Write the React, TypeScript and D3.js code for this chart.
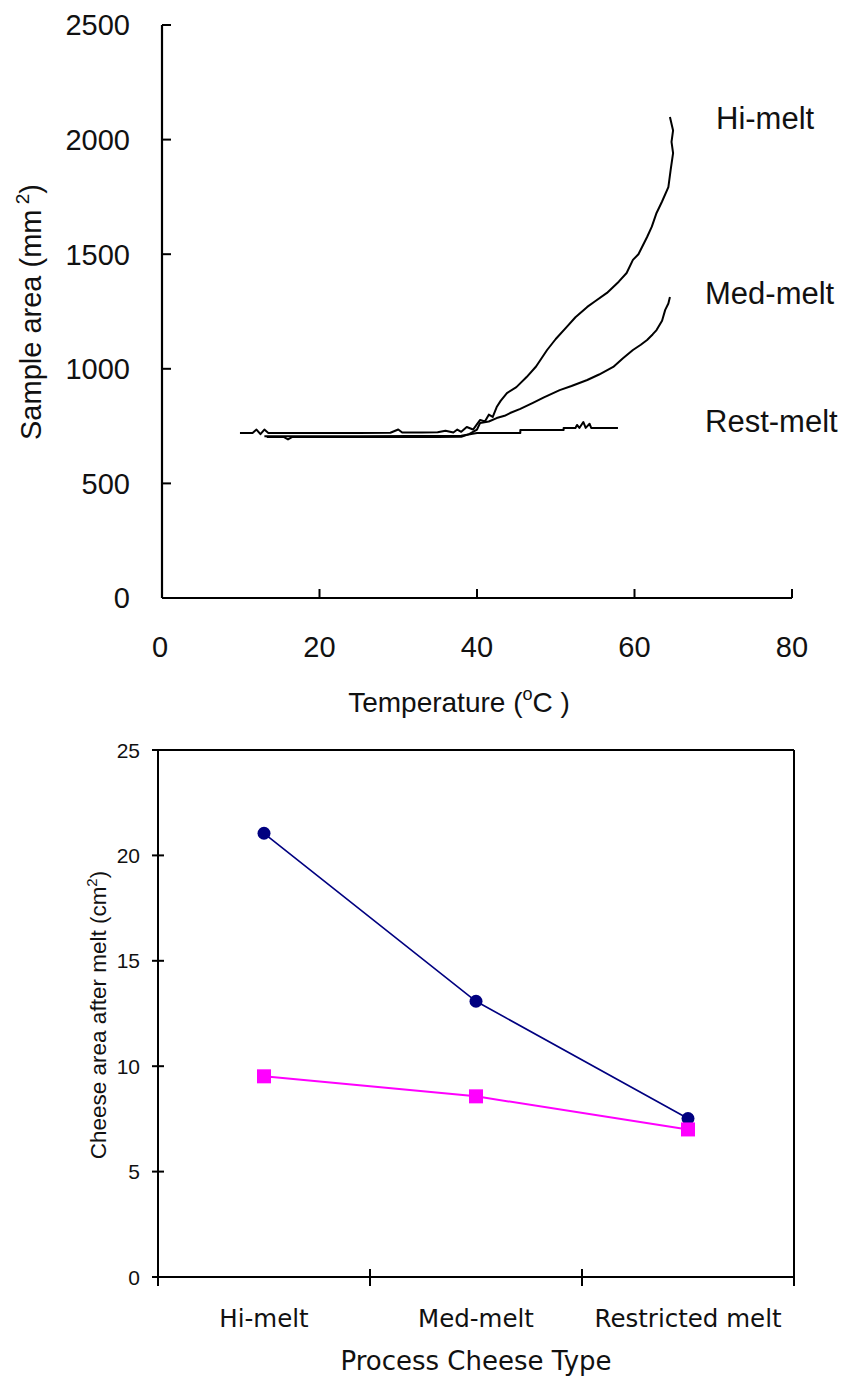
import React from "react";
import * as d3 from "d3";

// ---------- Top chart data: temperature (°C) vs sample area (mm²) ----------
const hiMeltTemp = [9.9, 11.5, 12, 12.5, 13, 13.5, 20, 25, 29, 30, 30.5, 33, 35, 36, 37, 37.5, 38, 38.7, 39.5, 40.4, 41, 41.5, 42, 42.5, 43, 43.8, 45, 46.3, 47.5, 48.9, 50, 51.4, 52.5, 54, 55, 56.5, 58, 59, 59.8, 60.5, 61.6, 62.2, 62.8, 63.5, 64.3, 64.6, 64.9, 64.7, 64.9, 64.5];
const hiMeltArea = [720, 720, 735, 715, 735, 720, 720, 720, 721, 735, 722, 722, 723, 730, 722, 735, 725, 746, 735, 777, 770, 800, 790, 833, 860, 894, 920, 964, 1010, 1082, 1130, 1183, 1225, 1270, 1295, 1331, 1380, 1418, 1475, 1500, 1575, 1620, 1680, 1730, 1793, 1870, 1941, 1990, 2040, 2099];

const medMeltTemp = [13.3, 15.5, 16, 16.5, 25, 35, 38, 39, 40, 40.4, 41.5, 42.5, 43.5, 44.2, 45.5, 47.1, 48.5, 50.5, 52, 54, 55.5, 57.3, 58.5, 59.8, 60.8, 61.6, 62.3, 62.8, 63.5, 63.9, 64.3, 64.5];
const medMeltArea = [702, 702, 692, 702, 702, 702, 703, 715, 735, 764, 770, 785, 795, 807, 825, 851, 875, 907, 925, 951, 975, 1008, 1045, 1082, 1105, 1126, 1150, 1169, 1210, 1257, 1285, 1313];

const restMeltTemp = [13, 25, 38, 40, 45.5, 45.5, 51, 51, 52.5, 52.7, 53, 53.5, 53.8, 54.3, 54.5, 57.9];
const restMeltArea = [706, 706, 708, 720, 720, 733, 733, 742, 742, 755, 742, 768, 742, 760, 742, 742];

const topXTicks = [0, 20, 40, 60, 80];
const topYTicks = [0, 500, 1000, 1500, 2000, 2500];
const curveLabels = ["Hi-melt", "Med-melt", "Rest-melt"];
const curveLabelY = [118, 293, 421]; // label vertical positions (px) beside each curve end

// ---------- Bottom chart data ----------
const cheeseTypes = ["Hi-melt", "Med-melt", "Restricted melt"];
const seriesBlue = [21.05, 13.08, 7.52];
const seriesMagenta = [9.52, 8.57, 7.0];
const bottomYTicks = [0, 5, 10, 15, 20, 25];

const ARIAL = "'Liberation Sans', Arial, sans-serif";
const DEJAVU = "'DejaVu Sans', sans-serif";

export default function App() {
  // top scales
  const xT = d3.scaleLinear().domain([0, 80]).range([162, 792]);
  const yT = d3.scaleLinear().domain([0, 2500]).range([598, 25]);
  const lineT = d3
    .line<[number, number]>()
    .x((d) => xT(d[0]))
    .y((d) => yT(d[1]));
  const zip = (a: number[], b: number[]) => a.map((v, i) => [v, b[i]] as [number, number]);
  const topSeries = [
    zip(hiMeltTemp, hiMeltArea),
    zip(medMeltTemp, medMeltArea),
    zip(restMeltTemp, restMeltArea),
  ];

  // bottom scales
  const xB = d3.scaleBand<string>().domain(cheeseTypes).range([158, 794]).padding(0);
  const yB = d3.scaleLinear().domain([0, 25]).range([1277, 750]);
  const cx = (c: string) => (xB(c) as number) + xB.bandwidth() / 2;
  const lineB = d3
    .line<number>()
    .x((_, i) => cx(cheeseTypes[i]))
    .y((d) => yB(d));
  const bandEdges = [...cheeseTypes.map((c) => xB(c) as number), 794];

  return (
    <svg
      width={847}
      height={1379}
      style={{ position: "absolute", left: 0, top: 0, background: "#fff" }}
    >
      <rect x={0} y={0} width={847} height={1379} fill="#fff" />
      {/* ================= TOP CHART ================= */}
      <g>
        {/* data lines */}
        {topSeries.map((s, i) => (
          <path
            key={i}
            d={lineT(s) || ""}
            fill="none"
            stroke="#000"
            strokeWidth={2}
            strokeLinejoin="round"
          />
        ))}
        {/* axes */}
        <line x1={xT(0)} x2={xT(0)} y1={yT(2500)} y2={yT(0)} stroke="#000" strokeWidth={2.2} />
        <line x1={xT(0)} x2={xT(80)} y1={yT(0)} y2={yT(0)} stroke="#000" strokeWidth={2.2} />
        {topYTicks.map((t) => (
          <g key={t}>
            <line x1={xT(0)} x2={xT(0) + 9} y1={yT(t)} y2={yT(t)} stroke="#000" strokeWidth={2} />
            <text
              x={130}
              y={yT(t)}
              dy="0.36em"
              textAnchor="end"
              fontFamily={ARIAL}
              fontSize={29}
              fill="#111"
            >
              {t}
            </text>
          </g>
        ))}
        {topXTicks.map((t) => (
          <g key={t}>
            {t > 0 && (
              <line x1={xT(t)} x2={xT(t)} y1={yT(0)} y2={yT(0) - 9} stroke="#000" strokeWidth={2} />
            )}
            <text
              x={xT(t) - (t === 0 ? 2 : 0)}
              y={657}
              textAnchor="middle"
              fontFamily={ARIAL}
              fontSize={29}
              fill="#111"
            >
              {t}
            </text>
          </g>
        ))}
        {/* axis titles */}
        <text x={459} y={712} textAnchor="middle" fontFamily={ARIAL} fontSize={28} fill="#111">
          Temperature (
          <tspan fontSize={18} dy={-12}>o</tspan>
          <tspan dy={12}>C )</tspan>
        </text>
        <text
          transform="translate(41,312) rotate(-90)"
          textAnchor="middle"
          fontFamily={ARIAL}
          fontSize={29}
          fill="#111"
        >
          Sample area (mm
          <tspan fontSize={19} dy={-12}> 2</tspan>
          <tspan dy={12}>)</tspan>
        </text>
        {/* curve labels */}
        {curveLabels.map((l, i) => (
          <text
            key={l}
            x={i === 0 ? 716 : 705}
            y={curveLabelY[i]}
            dy="0.36em"
            fontFamily={ARIAL}
            fontSize={31}
            fill="#111"
          >
            {l}
          </text>
        ))}
      </g>

      {/* ================= BOTTOM CHART ================= */}
      <g>
        {/* frame */}
        <line x1={158} x2={794} y1={yB(25)} y2={yB(25)} stroke="#000" strokeWidth={2} />
        <line x1={794} x2={794} y1={yB(25)} y2={yB(0) + 9} stroke="#000" strokeWidth={2} />
        <line x1={158} x2={158} y1={yB(25)} y2={yB(0) + 9} stroke="#000" strokeWidth={2} />
        <line x1={152} x2={794} y1={yB(0)} y2={yB(0)} stroke="#000" strokeWidth={2} />
        {bottomYTicks.map((t) => (
          <g key={t}>
            <line x1={152} x2={164} y1={yB(t)} y2={yB(t)} stroke="#000" strokeWidth={2} />
            <text
              x={140}
              y={yB(t)}
              dy="0.36em"
              textAnchor="end"
              fontFamily={ARIAL}
              fontSize={21}
              fill="#111"
            >
              {t}
            </text>
          </g>
        ))}
        {bandEdges.map((x, i) => (
          <line key={i} x1={x} x2={x} y1={yB(0) - 8} y2={yB(0) + 9} stroke="#000" strokeWidth={2} />
        ))}
        {cheeseTypes.map((c) => (
          <text key={c} x={cx(c)} y={1327} textAnchor="middle" fontFamily={DEJAVU} fontSize={24.5} fill="#111">
            {c}
          </text>
        ))}
        <text x={476} y={1370} textAnchor="middle" fontFamily={DEJAVU} fontSize={26} fill="#111">
          Process Cheese Type
        </text>
        <text
          transform="translate(106,1015) rotate(-90)"
          textAnchor="middle"
          fontFamily={ARIAL}
          fontSize={22.5}
          fill="#111"
        >
          Cheese area after melt (cm
          <tspan fontSize={15} dy={-9}>2</tspan>
          <tspan dy={9}>)</tspan>
        </text>
        {/* series */}
        <path d={lineB(seriesBlue) || ""} fill="none" stroke="#000080" strokeWidth={1.6} />
        {seriesBlue.map((v, i) => (
          <circle key={i} cx={cx(cheeseTypes[i])} cy={yB(v)} r={6.5} fill="#000080" />
        ))}
        <path d={lineB(seriesMagenta) || ""} fill="none" stroke="#FF00FF" strokeWidth={2} />
        {seriesMagenta.map((v, i) => (
          <rect key={i} x={cx(cheeseTypes[i]) - 7} y={yB(v) - 7} width={14} height={14} fill="#FF00FF" />
        ))}
      </g>
    </svg>
  );
}
